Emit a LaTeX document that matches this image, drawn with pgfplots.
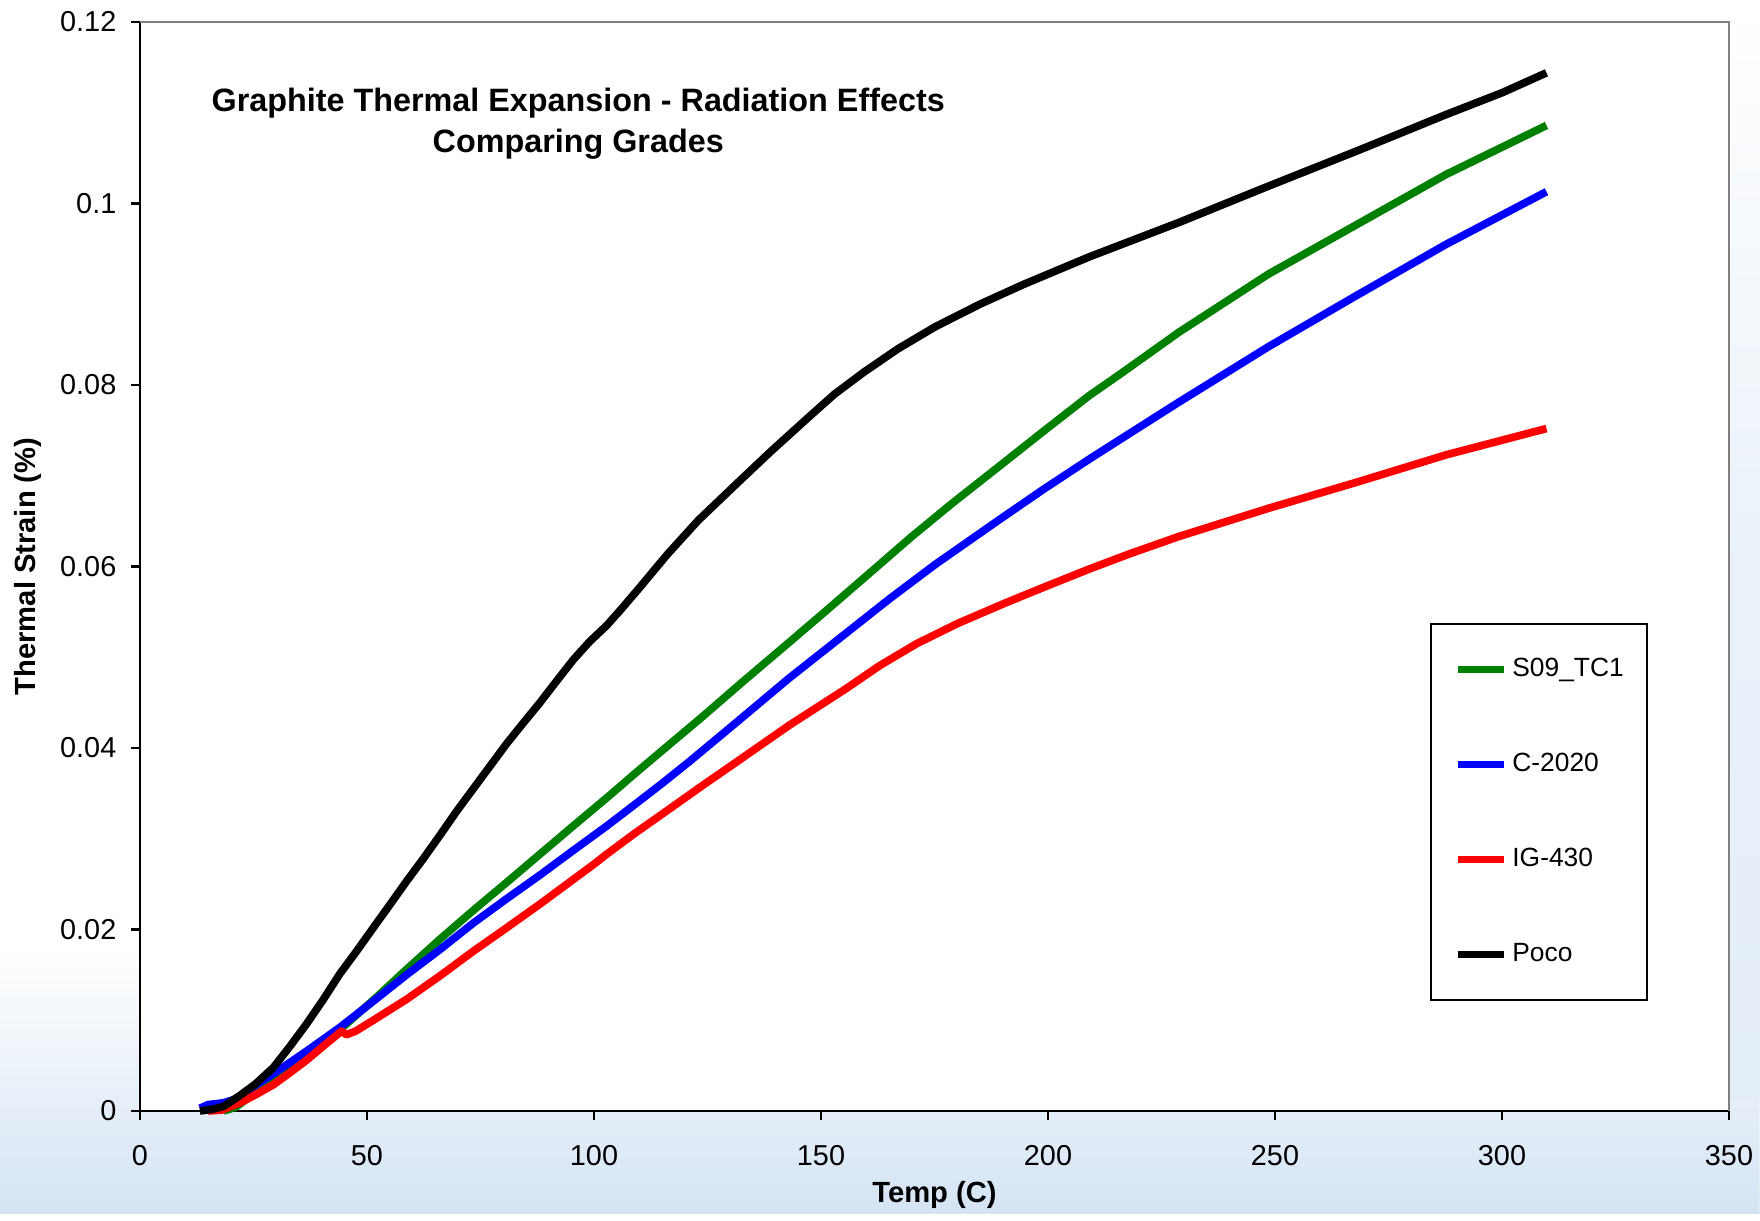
\documentclass[border=0pt]{standalone}
\usepackage{pgfplots}
\pgfplotsset{compat=1.18}
\usetikzlibrary{fadings}
\usepackage{fontspec}
\setmainfont{Liberation Sans}
\definecolor{bgblue}{HTML}{D5E4F4}
\definecolor{xlgreen}{HTML}{008000}
\begin{document}
\begin{tikzpicture}
\fill[white] (-14mm,-10.3mm) rectangle (162mm,111.1mm);
\fill[bgblue, path fading=north] (-14mm,-10.3mm) -- (162mm,-10.3mm) -- (162mm,1mm) -- (0mm,1mm) -- (0mm,16mm) -- (-14mm,16mm) -- cycle;
\shade[top color=white, bottom color=bgblue!65, middle color=bgblue!50] (158.9mm,1mm) rectangle (162mm,111.1mm);
\begin{axis}[
  name=ax,
  scale only axis, width=158.9mm, height=108.9mm,
  xmin=0, xmax=350, ymin=0, ymax=0.12,
  axis background/.style={fill=white},
  axis lines*=left,
  axis line style={black, line width=0.7pt},
  tick style={black, line width=0.7pt},
  tick align=outside, major tick length=0.9mm,
  xtick={0,50,100,150,200,250,300,350},
  xticklabels={0,50,100,150,200,250,300,350},
  ytick={0,0.02,0.04,0.06,0.08,0.1,0.12},
  yticklabels={0,0.02,0.04,0.06,0.08,0.1,0.12},
  /pgf/number format/assume math mode=true,
  ticklabel style={font=\fontsize{8.2}{9.8}\selectfont},
  xticklabel style={anchor=center, inner sep=0pt, yshift=-3.6mm},
  yticklabel style={anchor=east, inner sep=0pt, xshift=-1.4mm},
  xlabel={Temp (C)},
  ylabel={Thermal Strain (\%)},
  label style={font=\fontsize{8.3}{10}\selectfont\bfseries},
  xlabel style={at={(axis description cs:0.5,-0.0771)}, anchor=center},
  ylabel style={at={(axis description cs:-0.0705,0.5)}, anchor=center},
  legend style={at={(0.8117,0.4481)}, anchor=north west, draw=black, line width=0.5pt, fill=white,
    inner xsep=2.3mm, inner ysep=3.2mm, row sep=6.8mm, column sep=0.5mm,
    font=\fontsize{7.5}{9}\selectfont,
    nodes={inner sep=0pt, text height=2.1mm, text depth=0.6mm}},
  legend cell align=left,
  legend image code/.code={\draw[#1, line width=2.2pt] (0mm,0mm) -- (4.6mm,0mm);},
  clip=false,
]
\addplot[xlgreen, line width=2.2pt, line join=round] coordinates {
(18.4,0) (21,0.0004) (25.7,0.0021) (30,0.0036) (36.7,0.0058) (45.5,0.0096) (52,0.0125)
(58.7,0.0156) (66,0.0189) (73.4,0.0221) (80.8,0.0252) (88.1,0.0283) (95.4,0.0314)
(102.8,0.0345) (110,0.0376) (124,0.0435) (133,0.0474) (143.6,0.0519) (152,0.0555)
(161.7,0.0597) (170,0.0633) (179,0.0670) (189.4,0.0711) (199,0.0749) (209,0.0788)
(215.9,0.0812) (228.8,0.0858) (248.5,0.0922) (268.1,0.0977) (287.7,0.1032) (309.8,0.1086)
};
\addlegendentry{S09\_TC1}
\addplot[blue, line width=2.2pt, line join=round] coordinates {
(13.2,0.0003) (15,0.0007) (18.4,0.0009) (21,0.0013) (25,0.0027) (29.4,0.0041) (36.7,0.0066)
(44,0.0092) (51.4,0.0121) (58.7,0.0150) (66.1,0.0178) (73.4,0.0207) (80.8,0.0234)
(88.1,0.0260) (95.4,0.0287) (102.8,0.0314) (107.5,0.0332) (114.5,0.0359) (121,0.0385)
(131.8,0.0430) (143,0.0477) (155.4,0.0526) (165,0.0564) (175.1,0.0602) (189.4,0.0652)
(199,0.0685) (209,0.0718) (215.9,0.0740) (228.8,0.0781) (248.5,0.0842) (268.1,0.0899)
(287.7,0.0955) (309.8,0.1013)
};
\addlegendentry{C-2020}
\addplot[red, line width=2.2pt, line join=round] coordinates {
(15,0) (18,0.0001) (22,0.0009) (25.5,0.0018) (29.4,0.0029) (33,0.0042) (36.7,0.0056)
(40.5,0.0072) (44.4,0.0088) (45.5,0.0084) (47.5,0.0088) (51.4,0.0100) (58.7,0.0123)
(66.1,0.0149) (73.4,0.0176) (80.8,0.0202) (88.1,0.0228) (95.4,0.0255) (100,0.0272)
(102.8,0.0283) (109,0.0306) (116.1,0.0331) (124,0.0359) (131.8,0.0386) (143,0.0425)
(155.4,0.0465) (163,0.0491) (171.1,0.0515) (180,0.0537) (190.7,0.0560) (200,0.0579)
(209,0.0597) (218,0.0614) (228.8,0.0633) (248.5,0.0664) (268.1,0.0693) (287.7,0.0723)
(309.8,0.0752)
};
\addlegendentry{IG-430}
\addplot[black, line width=2.2pt, line join=round] coordinates {
(13.2,0) (16,0.0002) (18.4,0.0005) (22,0.0017) (25.5,0.0030) (29.4,0.0048) (33,0.0071)
(36.7,0.0096) (40.4,0.0123) (44,0.0151) (47.7,0.0176) (51.4,0.0202) (55,0.0227)
(58.7,0.0253) (62.4,0.0278) (66.1,0.0304) (69.7,0.0330) (73.4,0.0355) (77.1,0.0380)
(80.8,0.0405) (84.5,0.0428) (88.1,0.0450) (91.8,0.0474) (95.4,0.0497) (99,0.0517)
(102.8,0.0535) (106,0.0553) (110.1,0.0577) (116.1,0.0613) (123,0.0651) (131.8,0.0693)
(139,0.0727) (147.6,0.0766) (153,0.0790) (159.4,0.0814) (167,0.0840) (175.1,0.0864)
(185,0.0889) (194.7,0.0911) (209,0.0941) (228.8,0.0979) (248.5,0.1019) (268.1,0.1058)
(287.7,0.1098) (300,0.1122) (309.8,0.1144)
};
\addlegendentry{Poco}
\node[align=center, inner sep=0pt, font=\fontsize{9.2}{11.7}\selectfont\bfseries]
  at (axis description cs:0.2758,0.9065) {Graphite Thermal Expansion - Radiation Effects\\Comparing Grades};
\end{axis}
\draw[gray, line width=0.8pt] (ax.north west) -- (ax.north east) -- (ax.south east);
\end{tikzpicture}
\end{document}
